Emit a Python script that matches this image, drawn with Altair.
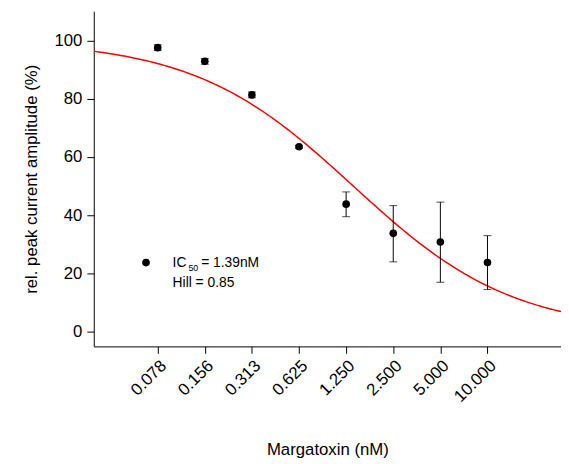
import altair as alt, numpy as np, pandas as pd

conc = [0.078125, 0.15625, 0.3125, 0.625, 1.25, 2.5, 5.0, 10.0]
amp = [97.5, 92.8, 81.3, 63.5, 43.8, 33.8, 30.8, 23.8]
lo = [96.5, 91.8, 80.3, 63.0, 39.5, 24.0, 17.0, 14.5]
hi = [98.5, 93.8, 82.3, 64.0, 48.0, 43.3, 44.5, 33.0]
ic50 = 1.39
hill = 0.85

pts = pd.DataFrame({"c": conc, "a": amp, "lo": lo, "hi": hi})
xs = np.logspace(np.log10(0.0305), np.log10(29.5), 200)
fit = pd.DataFrame({"c": xs, "a": 100 / (1 + (xs / ic50) ** hill)})

xsc = alt.Scale(type="log", domain=[0.0305, 29.5], nice=False)
ysc = alt.Scale(domain=[-5, 110], nice=False)
font = "Liberation Sans"
xax = alt.Axis(values=conc, format=".3f", labelAngle=-45, labelFontSize=17, titleFontSize=17,
               grid=False, tickSize=7, titlePadding=38, labelPadding=4, labelFont=font, titleFont=font,
               titleFontWeight="normal", labelOverlap=False, labelFlush=False,
               domainColor="black", tickColor="black", labelColor="black", titleColor="black",
               labelBaseline="top", labelAlign="right")
yax = alt.Axis(values=[0, 20, 40, 60, 80, 100], labelFontSize=17, titleFontSize=17, grid=False, tickSize=7,
               labelFont=font, titleFont=font, titleFontWeight="normal", titlePadding=14, labelPadding=5,
               domainColor="black", tickColor="black", labelColor="black", titleColor="black")

line = alt.Chart(fit).mark_line(color="red", strokeWidth=1.5, clip=True).encode(
    x=alt.X("c:Q", scale=xsc, axis=xax, title="Margatoxin (nM)"),
    y=alt.Y("a:Q", scale=ysc, axis=yax, title="rel. peak current amplitude (%)"))
err = alt.Chart(pts).mark_errorbar(ticks=alt.MarkConfig(size=8), color="black").encode(
    x="c:Q", y=alt.Y("lo:Q", title=""), y2="hi:Q")
dots = alt.Chart(pts).mark_circle(size=60, color="black", opacity=1).encode(x="c:Q", y="a:Q")

leg = pd.DataFrame({"k": [0]})
ldot = alt.Chart(leg).mark_circle(size=60, color="black", opacity=1).encode(x=alt.value(53), y=alt.value(255))
t1 = alt.Chart(leg).mark_text(align="left", fontSize=14, font=font).encode(
    x=alt.value(80), y=alt.value(255), text=alt.value("IC"))
t1s = alt.Chart(leg).mark_text(align="left", fontSize=9, font=font).encode(
    x=alt.value(96), y=alt.value(261), text=alt.value("50"))
t1b = alt.Chart(leg).mark_text(align="left", fontSize=14, font=font).encode(
    x=alt.value(109), y=alt.value(255), text=alt.value("= 1.39nM"))
t2 = alt.Chart(leg).mark_text(align="left", fontSize=14, font=font).encode(
    x=alt.value(80), y=alt.value(276), text=alt.value("Hill = 0.85"))

chart = alt.layer(line, err, dots, ldot, t1, t1s, t1b, t2).properties(
    width=474, height=340, padding={"left": 14, "top": 0, "right": 0, "bottom": 0}
).configure_view(stroke=None)
chart.save("out.html", embed_options={"renderer": "svg", "actions": False})
